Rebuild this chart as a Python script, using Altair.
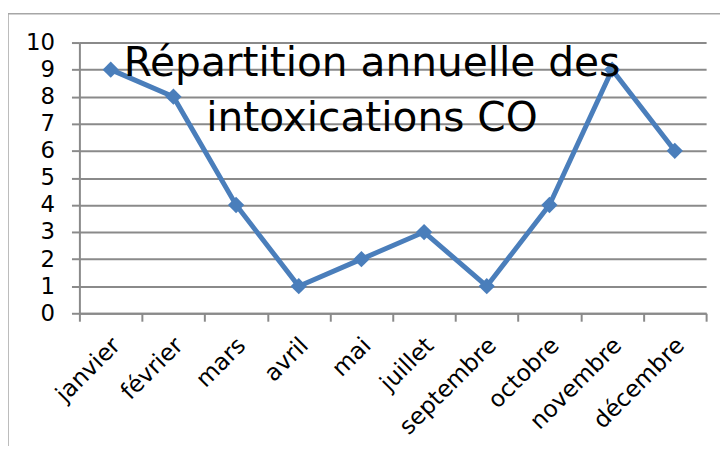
import altair as alt
import pandas as pd

months = ["janvier", "février", "mars", "avril", "mai", "juillet",
          "septembre", "octobre", "novembre", "décembre"]
counts = [9, 8, 4, 1, 2, 3, 1, 4, 9, 6]
title_lines = ["Répartition annuelle des", "intoxications CO"]

df = pd.DataFrame({"mois": months, "n": counts})
FONT = "DejaVu Sans"
GRID = "#8a8a8a"
BLUE = "#4a7ebb"

x = alt.X("mois:N", sort=months, title=None,
          scale=alt.Scale(paddingInner=0, paddingOuter=0),
          axis=alt.Axis(labelAngle=-45, labelFontSize=23.5, labelFont=FONT,
                        labelColor="#000000", labelPadding=12, labelOffset=-3,
                        tickBand="extent", tickSize=8, tickColor=GRID,
                        tickWidth=2, domainColor=GRID, domainWidth=2,
                        grid=False))
y = alt.Y("n:Q", title=None,
          scale=alt.Scale(domain=[0, 10], nice=False),
          axis=alt.Axis(values=list(range(0, 11)), labelFontSize=23,
                        labelFont=FONT, labelColor="#000000", labelPadding=17,
                        tickSize=8, tickColor=GRID, tickWidth=2,
                        domainColor=GRID, domainWidth=2,
                        grid=True, gridColor=GRID, gridWidth=2))

line = alt.Chart(df).mark_line(
    color=BLUE, strokeWidth=5,
    point=alt.OverlayMarkDef(shape="diamond", size=270, filled=True,
                             color=BLUE, opacity=1)
).encode(x=x, y=y)

one = alt.Data(values=[{"k": 1}])

frame = alt.Chart(one).mark_rect(fill=None, stroke="#a6a6a6",
                                 strokeWidth=1.5).encode(
    x=alt.value(-72), x2=alt.value(720), y=alt.value(-29), y2=alt.value(500))

title = alt.Chart(one).mark_text(
    text=title_lines, font=FONT, fontSize=41, color="#000000",
    align="center", baseline="alphabetic", lineHeight=55
).encode(x=alt.value(295), y=alt.value(34))

chart = alt.layer(frame, line, title).properties(
    width=632, height=273,
    autosize=alt.AutoSizeParams(type="none"),
    padding={"left": 72, "top": 33, "right": 14, "bottom": 132},
).configure_view(stroke=None)

chart.save("out.html", embed_options={"renderer": "svg", "actions": False})
